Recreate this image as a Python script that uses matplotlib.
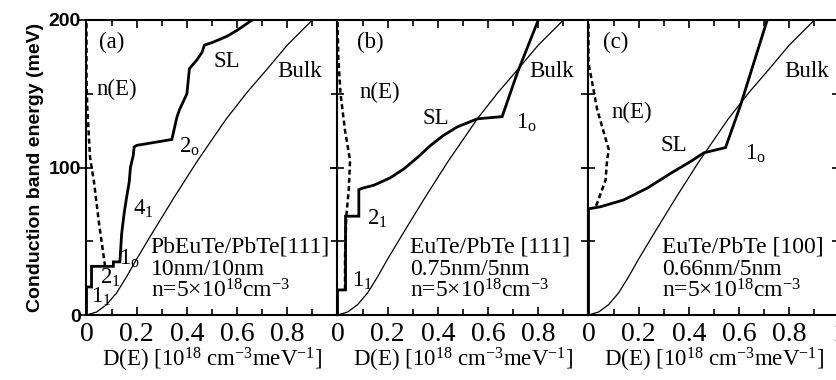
import matplotlib
matplotlib.use("Agg")
import matplotlib.pyplot as plt
from matplotlib.ticker import MultipleLocator

plt.rcParams["font.family"] = "Liberation Serif"
plt.rcParams["mathtext.fontset"] = "custom"
plt.rcParams["mathtext.rm"] = "Liberation Serif"
plt.rcParams["mathtext.it"] = "Liberation Serif:italic"

# bulk PbTe density of states (same curve in every panel)
bulk_D = [0, 0.04, 0.08, 0.12, 0.16, 0.20, 0.26, 0.35, 0.44, 0.557, 0.64, 0.716, 0.80, 0.90]
bulk_E = [0, 2, 7, 15, 26, 38, 55, 80, 104, 133, 151, 166, 183, 200]

# (a) PbEuTe/PbTe [111], 10nm/10nm
sl_a_D = [0.0, 0.0, 0.02, 0.02, 0.107, 0.107, 0.133, 0.14, 0.15, 0.16, 0.17, 0.175,
          0.186, 0.19, 0.20, 0.34, 0.36, 0.37, 0.40, 0.41, 0.44, 0.46, 0.47, 0.505,
          0.56, 0.60, 0.66]
sl_a_E = [0, 19, 19, 33, 33, 36, 36, 55, 69, 80, 90, 100,
          108, 114, 115, 119, 134, 139, 150, 167, 173, 178, 183, 185,
          189, 193, 200]
n_a_D = [0.074, 0.05, 0.03, 0.014, 0.003, 0.0, 0.0]
n_a_E = [33, 62, 90, 107, 141, 160, 200]

# (b) EuTe/PbTe [111], 0.75nm/5nm
sl_b_D = [0.0, 0.0, 0.032, 0.032, 0.085, 0.085, 0.10, 0.145, 0.21, 0.264, 0.32,
          0.371, 0.42, 0.477, 0.557, 0.656, 0.716, 0.80]
sl_b_E = [0, 17, 17, 67, 67, 85, 86, 88, 93, 99, 107,
          115, 121.5, 127.5, 133, 134.5, 164, 200]
n_b_D = [0.03, 0.03, 0.035, 0.045, 0.05, 0.03, 0.012, 0.003, 0.0]
n_b_E = [17, 40, 67, 85, 105, 125, 150, 175, 200]

# (c) EuTe/PbTe [100], 0.66nm/5nm
sl_c_D = [0.0, 0.0, 0.048, 0.14, 0.234, 0.327, 0.406, 0.46, 0.546, 0.606, 0.712]
sl_c_E = [0, 72, 73.4, 78, 86, 96, 104, 110, 113.5, 142.4, 200]
n_c_D = [0.03, 0.035, 0.068, 0.074, 0.081, 0.035, 0.0, 0.0]
n_c_E = [74, 76, 91.5, 105, 112, 139, 171, 200]

panels = [
    dict(sl=(sl_a_D, sl_a_E), n=(n_a_D, n_a_E),
         info=["PbEuTe/PbTe[111]", "10nm/10nm"],
         labels=[("(a)", 0.10, 185), ("n(E)", 0.12, 153), ("SL", 0.56, 172),
                 ("Bulk", 0.85, 165), ("$2_\\mathrm{o}$", 0.41, 114),
                 ("$4_1$", 0.226, 72), ("$1_\\mathrm{o}$", 0.17, 38),
                 ("$2_1$", 0.094, 25), ("$1_1$", 0.06, 12)],
         info_x=0.255),
    dict(sl=(sl_b_D, sl_b_E), n=(n_b_D, n_b_E),
         info=["EuTe/PbTe [111]", "0.75nm/5nm"],
         labels=[("(b)", 0.13, 185), ("n(E)", 0.17, 151), ("SL", 0.39, 133),
                 ("Bulk", 0.855, 165), ("$1_\\mathrm{o}$", 0.755, 130),
                 ("$2_1$", 0.158, 65), ("$1_1$", 0.098, 23)],
         info_x=0.29),
    dict(sl=(sl_c_D, sl_c_E), n=(n_c_D, n_c_E),
         info=["EuTe/PbTe [100]", "0.66nm/5nm"],
         labels=[("(c)", 0.107, 185), ("n(E)", 0.174, 137), ("SL", 0.34, 115),
                 ("Bulk", 0.87, 165), ("$1_\\mathrm{o}$", 0.665, 109)],
         info_x=0.294),
]

fig = plt.figure(figsize=(8.37, 3.8), dpi=100)
lefts = [86.5 / 837, 337.5 / 837, 588.5 / 837]
w = 251 / 837
bottom = 65 / 380
h = 295 / 380

for i, (p, left) in enumerate(zip(panels, lefts)):
    ax = fig.add_axes([left, bottom, w, h])
    ax.plot(bulk_D, bulk_E, color="black", lw=0.9)
    ax.plot(*p["sl"], color="black", lw=2.0, solid_joinstyle="miter")
    ax.plot(*p["n"], color="black", lw=1.8, ls=(0, (2, 1.3)))
    ax.set_xlim(0, 1.0)
    ax.set_ylim(0, 200)

    for s in ax.spines.values():
        s.set_linewidth(1.5)
    ax.xaxis.set_major_locator(MultipleLocator(0.2))
    ax.xaxis.set_minor_locator(MultipleLocator(0.1))
    ax.yaxis.set_major_locator(MultipleLocator(100))
    ax.yaxis.set_minor_locator(MultipleLocator(50))
    ax.tick_params(axis="x", which="both", direction="in", top=True, width=1.2)
    ax.tick_params(axis="x", which="major", length=6)
    ax.tick_params(axis="x", which="minor", length=4)
    ax.tick_params(axis="y", which="major", direction="inout", right=True,
                   length=10, width=1.2)
    ax.tick_params(axis="y", which="minor", direction="in", right=True,
                   length=5, width=1.2)
    ax.tick_params(axis="x", labelsize=20, pad=5)

    if i == 2:
        ax.set_xticks([0, 0.2, 0.4, 0.6, 0.8, 1.0])
        ax.set_xticklabels(["0", "0.2", "0.4", "0.6", "0.8", "1"])
    else:
        ax.set_xticks([0, 0.2, 0.4, 0.6, 0.8])
        ax.set_xticklabels(["0", "0.2", "0.4", "0.6", "0.8"])

    if i == 0:
        ax.set_yticks([0, 100, 200])
        ax.set_yticklabels(["0", "100", "200"])
        for t in ax.get_yticklabels():
            t.set_family("Liberation Sans")
            t.set_fontweight("bold")
            t.set_fontsize(14)
        ax.tick_params(axis="y", pad=-1)
        ax.set_ylabel("Conduction band energy (meV)", family="Liberation Sans",
                      fontweight="bold", fontsize=14, labelpad=3)
    else:
        ax.set_yticklabels([])

    ax.set_xlabel("D(E) [10$^{18}$ cm$^{-3}$meV$^{-1}$]", fontsize=16.5, labelpad=-1)

    for txt, x, y in p["labels"]:
        ax.text(x, y, txt, fontsize=16.5, ha="center", va="center")
    ax.text(p["info_x"], 46, p["info"][0], fontsize=17, ha="left", va="center")
    ax.text(p["info_x"], 31, p["info"][1], fontsize=17, ha="left", va="center")
    ax.text(p["info_x"], 16, "n=5$\\times$10$^{18}$cm$^{-3}$", fontsize=17,
            ha="left", va="center")

fig.savefig("out.png", dpi=100)
